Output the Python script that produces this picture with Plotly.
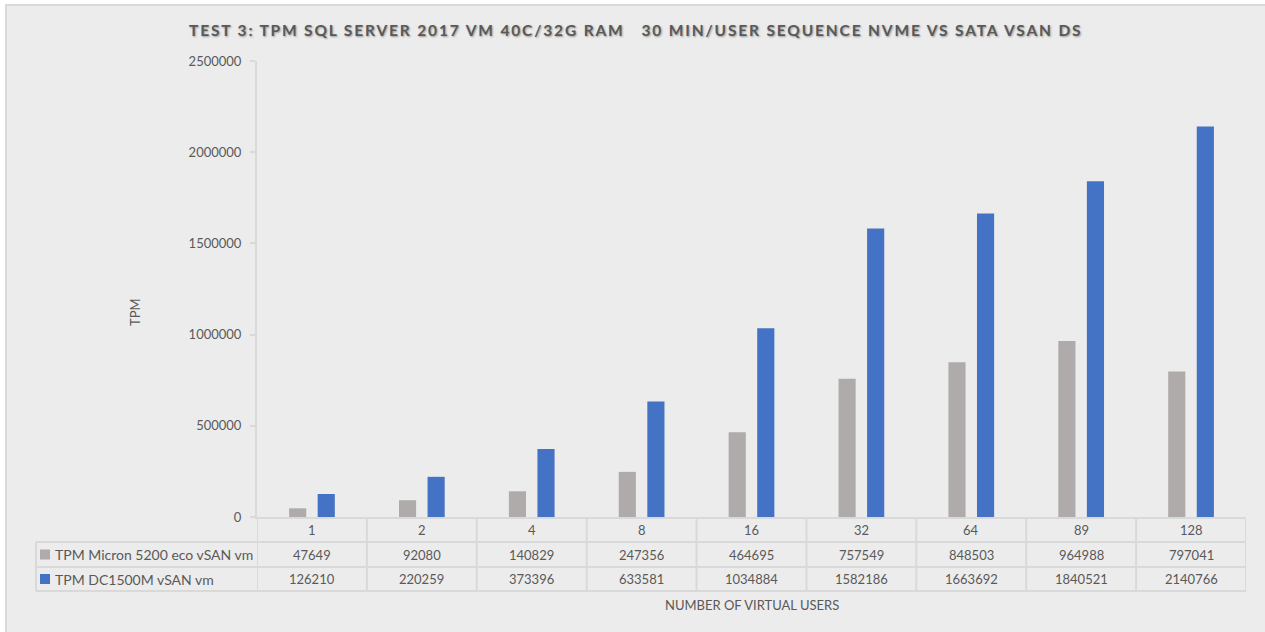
import plotly.graph_objects as go

# ---- data ----
users = ["1", "2", "4", "8", "16", "32", "64", "89", "128"]
micron_name = "TPM Micron 5200 eco vSAN vm"
micron_tpm = [47649, 92080, 140829, 247356, 464695, 757549, 848503, 964988, 797041]
dc_name = "TPM DC1500M vSAN vm"
dc_tpm = [126210, 220259, 373396, 633581, 1034884, 1582186, 1663692, 1840521, 2140766]
y_ticks = [0, 500000, 1000000, 1500000, 2000000, 2500000]
title_text = "TEST 3: TPM SQL SERVER 2017 VM 40C/32G RAM&nbsp;&nbsp; 30 MIN/USER SEQUENCE NVME VS SATA VSAN DS"
y_title = "TPM"
x_title = "NUMBER OF VIRTUAL USERS"

# ---- style ----
W, H = 1265, 632
L, R, T, B = 257, 1246, 61, 517
GRAY = "#afabab"
BLUE = "#4472c4"
TXT = "#595959"
LINE = "#d9d9d9"
FONT = "Lato"


def xp(px):
    return (px - L) / (R - L)


def yp(py):
    return (B - py) / (B - T)


fig = go.Figure()
fig.add_trace(go.Bar(x=users, y=micron_tpm, name=micron_name, marker=dict(color=GRAY, line=dict(width=0))))
fig.add_trace(go.Bar(x=users, y=dc_tpm, name=dc_name, marker=dict(color=BLUE, line=dict(width=0))))

shapes = []
# background panel
shapes.append(dict(type="rect", xref="paper", yref="paper", x0=xp(6), x1=xp(W + 4), y0=yp(H + 4), y1=yp(5),
                   fillcolor="#ececec", line=dict(color=LINE, width=2), layer="below"))

# data table grid
row_edges = [B, 542, 567, 591]
left_table = 36
n = len(users)
for i in range(n + 1):
    shapes.append(dict(type="line", xref="x", yref="paper", x0=i - 0.5, x1=i - 0.5,
                       y0=yp(row_edges[0]), y1=yp(row_edges[-1]), line=dict(color=LINE, width=2)))
shapes.append(dict(type="line", xref="paper", yref="paper", x0=xp(left_table), x1=xp(left_table),
                   y0=yp(row_edges[1]), y1=yp(row_edges[-1]), line=dict(color=LINE, width=2)))
for ry in row_edges[1:]:
    shapes.append(dict(type="line", xref="paper", yref="paper", x0=xp(left_table), x1=1,
                       y0=yp(ry), y1=yp(ry), line=dict(color=LINE, width=2)))

annotations = []
row_centers = [(row_edges[k] + row_edges[k + 1]) / 2 for k in range(3)]
cell_font = dict(family=FONT, size=13, color=TXT)
for i, u in enumerate(users):
    for k, txt in enumerate([u, str(micron_tpm[i]), str(dc_tpm[i])]):
        annotations.append(dict(x=i, xref="x", y=yp(row_centers[k]), yref="paper", text=txt, showarrow=False,
                                font=cell_font, xanchor="center", yanchor="middle"))

for k, (nm, col) in enumerate([(micron_name, GRAY), (dc_name, BLUE)]):
    cy = row_centers[k + 1]
    shapes.append(dict(type="rect", xref="paper", yref="paper", x0=xp(40), x1=xp(50),
                       y0=yp(cy + 5), y1=yp(cy - 5), fillcolor=col, line=dict(width=0)))
    annotations.append(dict(x=xp(53), xref="paper", y=yp(cy), yref="paper", text=nm, showarrow=False,
                            font=dict(family=FONT, size=14, color=TXT), xanchor="left", yanchor="middle"))

# axis titles
annotations.append(dict(x=xp(135), xref="paper", y=yp(312), yref="paper", text=y_title, showarrow=False,
                        textangle=-90, font=dict(family=FONT, size=13, color=TXT),
                        xanchor="center", yanchor="middle"))
annotations.append(dict(x=0.5, xref="paper", y=yp(605), yref="paper", text=x_title, showarrow=False,
                        font=dict(family=FONT, size=13, color=TXT), xanchor="center", yanchor="middle"))
# chart title
annotations.append(dict(x=xp(635), xref="paper", y=yp(30), yref="paper",
                        text='<span style="letter-spacing:1.85px">' + title_text + '</span>',
                        showarrow=False, xanchor="center", yanchor="middle",
                        font=dict(family=FONT, size=15.5, color=TXT, weight="bold",
                                  shadow="1px 1px 2px rgba(0,0,0,0.35)")))

fig.update_layout(
    width=W, height=H,
    margin=dict(l=L, r=W - R, t=T, b=H - B, pad=0),
    paper_bgcolor="white",
    plot_bgcolor="rgba(0,0,0,0)",
    barmode="group",
    bargap=0.48,
    bargroupgap=0.4,
    showlegend=False,
    shapes=shapes,
    annotations=annotations,
    font=dict(family=FONT, color=TXT),
    xaxis=dict(type="category", range=[-0.5, n - 0.5], showticklabels=False, ticks="",
               showline=True, linecolor=LINE, linewidth=2, showgrid=False, zeroline=False, fixedrange=True),
    yaxis=dict(range=[0, 2500000], tickvals=y_ticks, ticktext=[str(v) for v in y_ticks],
               showline=True, linecolor=LINE, linewidth=2, ticks="outside", ticklen=5, tickcolor=LINE,
               tickwidth=2, showgrid=False, zeroline=False, tickfont=dict(family=FONT, size=13, color=TXT),
               ticklabelstandoff=6, fixedrange=True),
)

fig.write_html("out.html", config={"displayModeBar": False},
               post_script="document.body.style.margin='0';document.body.style.overflow='hidden';")
